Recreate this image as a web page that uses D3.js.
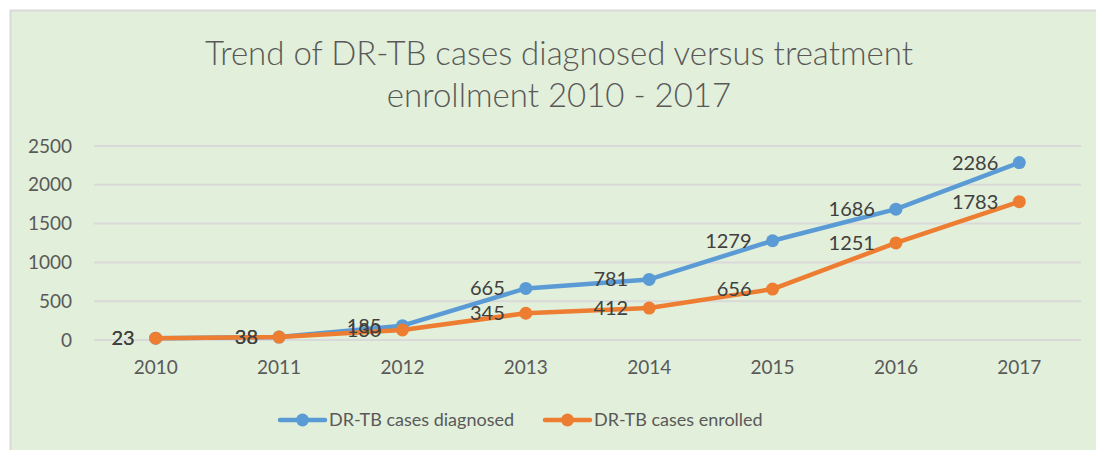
<!DOCTYPE html>
<html>
<head>
<meta charset="utf-8">
<script src="https://cdn.jsdelivr.net/npm/d3@7"></script>
<style>
  body { margin: 0; background: #fff; }
  svg { display: block; font-family: Lato, "Noto Sans", sans-serif; }
</style>
</head>
<body>
<svg id="chart"></svg>
<script>
// chart data
var years = ["2010", "2011", "2012", "2013", "2014", "2015", "2016", "2017"]
var diagnosed = [23, 38, 185, 665, 781, 1279, 1686, 2286]
var enrolled = [23, 38, 130, 345, 412, 656, 1251, 1783]
var yTicks = [0, 500, 1000, 1500, 2000, 2500]
var seriesNames = ["DR-TB cases diagnosed", "DR-TB cases enrolled"]

var width = 1096,
    height = 450

var colors = ["#5B9BD5", "#ED7D31"]

var svg = d3.select("#chart")
    .attr("width", width)
    .attr("height", height)

// chart background + border
svg.append("rect")
    .attr("x", 10.5).attr("y", 10.5)
    .attr("width", width).attr("height", height)
    .attr("fill", "#E2EFDA")
    .attr("stroke", "#D9D9D9")
    .attr("stroke-width", 2)

// title
var title = svg.append("text")
    .attr("text-anchor", "middle")
    .attr("fill", "#595959")
    .style("font-size", "33px")
    .style("font-weight", 300)
title.append("tspan").attr("x", 559).attr("y", 65).text("Trend of DR-TB cases diagnosed versus treatment")
title.append("tspan").attr("x", 559).attr("y", 107).text("enrollment 2010 - 2017")

var x = d3.scaleBand()
    .domain(years)
    .range([94, 1081])

var y = d3.scaleLinear()
    .domain([0, 2500])
    .range([340, 146])

// gridlines
svg.append("g")
  .selectAll("line")
  .data(yTicks)
  .enter()
  .append("line")
    .attr("x1", 94).attr("x2", 1081)
    .attr("y1", function(d) { return y(d) })
    .attr("y2", function(d) { return y(d) })
    .attr("stroke", "#D9D9D9")
    .attr("stroke-width", 2)

// y axis
var yAxis = svg.append("g")
    .attr("transform", "translate(80,0)")
    .call(d3.axisLeft(y).tickValues(yTicks).tickFormat(d3.format("d")).tickSize(0).tickPadding(8))
yAxis.select(".domain").remove()
yAxis.selectAll("text")
    .attr("fill", "#595959")
    .style("font-size", "19px")
    .style("font-family", "Lato, 'Noto Sans', sans-serif")

// x axis
var xAxis = svg.append("g")
    .attr("transform", "translate(0,356)")
    .call(d3.axisBottom(x).tickSize(0).tickPadding(4))
xAxis.select(".domain").remove()
xAxis.selectAll("text")
    .attr("fill", "#595959")
    .style("font-size", "19px")
    .style("font-family", "Lato, 'Noto Sans', sans-serif")

var line = d3.line()
    .x(function(d, i) { return x(years[i]) + x.bandwidth() / 2 })
    .y(function(d) { return y(d) })

var allSeries = [diagnosed, enrolled]

allSeries.forEach(function(vals, s) {
    var g = svg.append("g")
    g.append("path")
        .datum(vals)
        .attr("d", line)
        .attr("fill", "none")
        .attr("stroke", colors[s])
        .attr("stroke-width", 4.5)
        .attr("stroke-linejoin", "round")
    g.selectAll("circle")
        .data(vals)
        .enter()
        .append("circle")
        .attr("cx", function(d, i) { return x(years[i]) + x.bandwidth() / 2 })
        .attr("cy", function(d) { return y(d) })
        .attr("r", 6.5)
        .attr("fill", colors[s])
})

// data labels (drawn after lines so they sit on top)
allSeries.forEach(function(vals, s) {
    svg.append("g")
      .selectAll("text")
      .data(vals)
      .enter()
      .append("text")
        .attr("x", function(d, i) { return x(years[i]) + x.bandwidth() / 2 - 21 })
        .attr("y", function(d) { return y(d) })
        .attr("dy", "0.35em")
        .attr("text-anchor", "end")
        .attr("fill", "#404040")
        .style("font-size", "20px")
        .text(function(d) { return d })
})

// legend
var legendX = [280, 545]
var legend = svg.append("g")
seriesNames.forEach(function(name, s) {
    var lg = legend.append("g").attr("transform", "translate(" + legendX[s] + ",420)")
    lg.append("line")
        .attr("x1", 0).attr("x2", 45)
        .attr("stroke", colors[s])
        .attr("stroke-width", 4.5)
        .attr("stroke-linecap", "round")
    lg.append("circle").attr("cx", 22.5).attr("r", 6.5).attr("fill", colors[s])
    lg.append("text")
        .attr("x", 49)
        .attr("dy", "0.35em")
        .attr("fill", "#595959")
        .style("font-size", "18px")
        .text(name)
})
</script>
</body>
</html>
